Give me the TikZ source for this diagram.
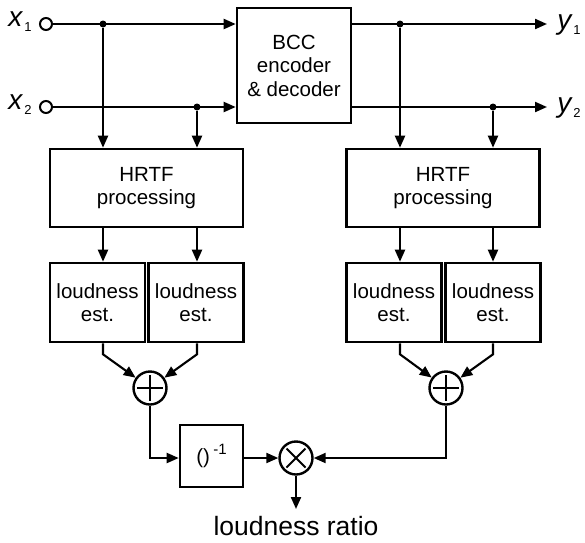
\documentclass[tikz,border=0pt]{standalone}
\usepackage{fontspec}
\setmainfont{Liberation Sans}
\usetikzlibrary{arrows.meta,calc}
\begin{document}
\begin{tikzpicture}[x=1pt,y=-1pt,
  every node/.style={font=\fontsize{20.5}{23.5}\selectfont},
  blk/.style={draw,line width=2.6pt,inner sep=0pt,align=center},
  wire/.style={line width=2.1pt},
  arr/.style={wire,-{Triangle[length=12pt,width=10pt]}},
  dot/.style={circle,fill,inner sep=0pt,minimum size=7pt},
  port/.style={circle,draw,line width=2pt,inner sep=0pt,minimum size=12pt,fill=white},
  sumnode/.style={circle,draw,line width=2.4pt,inner sep=0pt,minimum size=33pt,
    path picture={\draw[line width=2pt] ($(path picture bounding box.center)+(-13,0)$) -- ($(path picture bounding box.center)+(13,0)$)
      ($(path picture bounding box.center)+(0,-13)$) -- ($(path picture bounding box.center)+(0,13)$);}},
  mulnode/.style={circle,draw,line width=2.4pt,inner sep=0pt,minimum size=33pt,
    path picture={\draw[line width=2pt] ($(path picture bounding box.center)+(-9.5,-9.5)$) -- ($(path picture bounding box.center)+(9.5,9.5)$)
      ($(path picture bounding box.center)+(-9.5,9.5)$) -- ($(path picture bounding box.center)+(9.5,-9.5)$);}},
  lbl/.style={font=\fontsize{28}{28}\selectfont\itshape},
]
\useasboundingbox (0,0) rectangle (585,542);
\newcommand{\subs}[1]{\raisebox{-0.35ex}{\upshape\fontsize{13}{13}\selectfont\,#1}}
% inputs
\node[lbl] (lx1) at (20,22) {x\subs{1}};
\node[lbl] (lx2) at (20,105) {x\subs{2}};
\node[port] (in1) at (46,24) {};
\node[port] (in2) at (46,107) {};
% BCC
\node[blk,minimum width=114pt,minimum height=115pt] (bcc) at (294,65.5) {BCC\\encoder\\\& decoder};
% dots
\node[dot] (d1) at (103,24) {};
\node[dot] (d2) at (197,107) {};
\node[dot] (d3) at (400,24) {};
\node[dot] (d4) at (493,107) {};
% outputs
\coordinate (o1) at (547,24);
\coordinate (o2) at (547,107);
\node[lbl] (ly1) at (569,25) {y\subs{1}};
\node[lbl] (ly2) at (569,108) {y\subs{2}};
% HRTF
\node[blk,minimum width=193pt,minimum height=78pt] (hL) at (146.5,188) {HRTF\\processing};
\node[blk,minimum width=193pt,minimum height=78pt] (hR) at (443,188) {HRTF\\processing};
% loudness
\node[blk,minimum width=95pt,minimum height=79pt] (l1) at (97.5,302.5) {loudness\\est.};
\node[blk,minimum width=95pt,minimum height=79pt] (l2) at (196,302.5) {loudness\\est.};
\node[blk,minimum width=95pt,minimum height=79pt] (l3) at (394,302.5) {loudness\\est.};
\node[blk,minimum width=95pt,minimum height=79pt] (l4) at (493,302.5) {loudness\\est.};
% sums
\node[sumnode] (sL) at (150,388) {};
\node[sumnode] (sR) at (446,388) {};
% inverse and multiply
\node[blk,minimum width=63pt,minimum height=62pt] (inv) at (211.5,456) {()\,\raisebox{0.9ex}{\fontsize{15}{15}\selectfont -1}};
\node[mulnode] (mul) at (296,458) {};
\coordinate (out) at (296,509);
\node[font=\fontsize{26.5}{26.5}\selectfont] (ratio) at (296,526) {loudness ratio};
% wires
\draw[arr] (in1) -- (bcc.west |- in1);
\draw[arr] (in2) -- (bcc.west |- in2);
\draw[arr] (bcc.east |- o1) -- (o1);
\draw[arr] (bcc.east |- o2) -- (o2);
\draw[arr] (d1) -- (d1 |- hL.north);
\draw[arr] (d2) -- (d2 |- hL.north);
\draw[arr] (d3) -- (d3 |- hR.north);
\draw[arr] (d4) -- (d4 |- hR.north);
\draw[arr] (hL.south -| d1) -- (d1 |- l1.north);
\draw[arr] (hL.south -| d2) -- (d2 |- l2.north);
\draw[arr] (hR.south -| d3) -- (d3 |- l3.north);
\draw[arr] (hR.south -| d4) -- (d4 |- l4.north);
\draw[arr] (l1.south -| d1) -- ++(0,11) -- (sL);
\draw[arr] (l2.south -| d2) -- ++(0,11) -- (sL);
\draw[arr] (l3.south -| d3) -- ++(0,11) -- (sR);
\draw[arr] (l4.south -| d4) -- ++(0,11) -- (sR);
\draw[arr] (sL) |- (inv.west |- mul);
\draw[arr] (inv.east |- mul) -- (mul);
\draw[arr] (sR) |- (mul);
\draw[arr] (mul) -- (out);
\end{tikzpicture}
\end{document}
